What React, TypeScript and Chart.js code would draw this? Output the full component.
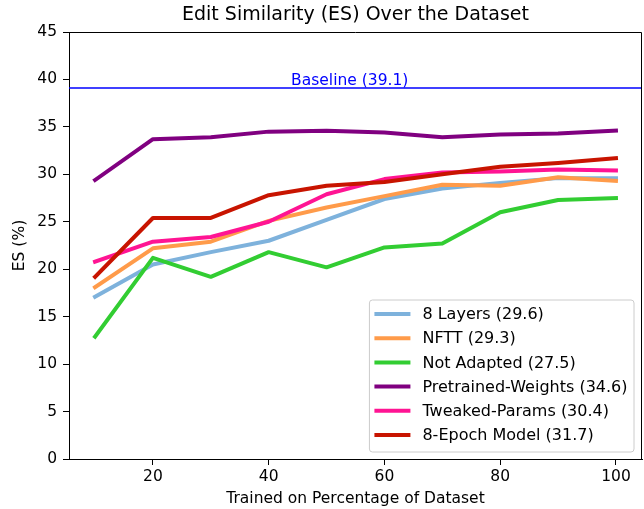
import React, { useEffect, useRef } from "react";
import { Chart, registerables } from "chart.js";

Chart.register(...registerables);

const percentages = [10, 20, 30, 40, 50, 60, 70, 80, 90, 100];
const eightLayers = [17.1, 20.5, 21.8, 23.0, 25.2, 27.4, 28.5, 29.1, 29.6, 29.6];
const nftt = [18.1, 22.2, 22.9, 25.1, 26.5, 27.7, 28.9, 28.8, 29.7, 29.3];
const notAdapted = [12.9, 21.2, 19.2, 21.8, 20.2, 22.3, 22.7, 26.0, 27.3, 27.5];
const pretrainedWeights = [29.4, 33.7, 33.9, 34.5, 34.6, 34.4, 33.9, 34.2, 34.3, 34.6];
const tweakedParams = [20.8, 22.9, 23.4, 25.0, 27.9, 29.5, 30.2, 30.3, 30.5, 30.4];
const eightEpoch = [19.2, 25.4, 25.4, 27.8, 28.8, 29.2, 30.0, 30.8, 31.2, 31.7];

const seriesLabels = [
  "8 Layers (29.6)",
  "NFTT (29.3)",
  "Not Adapted (27.5)",
  "Pretrained-Weights (34.6)",
  "Tweaked-Params (30.4)",
  "8-Epoch Model (31.7)",
];
const seriesColors = ["#7EB2DC", "#FF9B4A", "#32CD32", "#800080", "#FF1493", "#C81400"];
const baselineValue = 39.1;
const baselineLabel = "Baseline (39.1)";
const xTickValues = [20, 40, 60, 80, 100];
const chartTitle = "Edit Similarity (ES) Over the Dataset";
const xAxisTitle = "Trained on Percentage of Dataset";
const yAxisTitle = "ES (%)";

const FONT = "'DejaVu Sans', sans-serif";

export default function App() {
  const ref = useRef<HTMLCanvasElement | null>(null);

  useEffect(() => {
    const canvas = ref.current;
    if (!canvas) return;
    const allSeries = [eightLayers, nftt, notAdapted, pretrainedWeights, tweakedParams, eightEpoch];

    const overlay = {
      id: "overlay",
      afterDatasetsDraw(chart: any) {
        const { ctx, chartArea: ca, scales } = chart;
        const yb = scales.y.getPixelForValue(baselineValue);
        ctx.save();
        ctx.strokeStyle = "#0000FF";
        ctx.lineWidth = 1.5;
        ctx.beginPath();
        ctx.moveTo(ca.left, yb);
        ctx.lineTo(ca.right, yb);
        ctx.stroke();
        ctx.fillStyle = "#0000FF";
        ctx.font = `15.5px ${FONT}`;
        ctx.textAlign = "center";
        ctx.textBaseline = "alphabetic";
        ctx.fillText(baselineLabel, scales.x.getPixelForValue(54), yb - 3);
        ctx.restore();
      },
      afterDraw(chart: any) {
        const { ctx, chartArea: ca } = chart;
        ctx.save();
        // frame
        ctx.strokeStyle = "#000";
        ctx.lineWidth = 1;
        ctx.beginPath();
        ctx.moveTo(Math.round(ca.left) + 0.5, Math.round(ca.top) + 0.5);
        ctx.lineTo(Math.round(ca.right) - 0.5, Math.round(ca.top) + 0.5);
        ctx.lineTo(Math.round(ca.right) - 0.5, Math.round(ca.bottom));
        ctx.stroke();

        const cx = (ca.left + ca.right) / 2;
        // title
        ctx.fillStyle = "#000";
        ctx.textAlign = "center";
        ctx.textBaseline = "middle";
        ctx.font = `19px ${FONT}`;
        ctx.fillText(chartTitle, cx, 15);
        // x axis title
        ctx.font = `15.5px ${FONT}`;
        ctx.fillText(xAxisTitle, cx, 499);
        // y axis title
        ctx.save();
        ctx.translate(20, (ca.top + ca.bottom) / 2);
        ctx.rotate(-Math.PI / 2);
        ctx.fillText(yAxisTitle, 0, 0);
        ctx.restore();

        // legend
        ctx.font = `16px ${FONT}`;
        let maxW = 0;
        seriesLabels.forEach((l) => {
          maxW = Math.max(maxW, ctx.measureText(l).width);
        });
        const handleStart = 5;
        const handleLen = 36;
        const gap = 12;
        const rightPad = 6.5;
        const rowH = 24.2;
        const textOffset = handleStart + handleLen + gap;
        const boxW = textOffset + maxW + rightPad;
        const boxH = 152;
        const boxRight = ca.right - 8;
        const boxBottom = ca.bottom - 7;
        const bx = boxRight - boxW;
        const by = boxBottom - boxH;
        ctx.beginPath();
        const r = 3;
        ctx.moveTo(bx + r, by);
        ctx.lineTo(bx + boxW - r, by);
        ctx.quadraticCurveTo(bx + boxW, by, bx + boxW, by + r);
        ctx.lineTo(bx + boxW, by + boxH - r);
        ctx.quadraticCurveTo(bx + boxW, by + boxH, bx + boxW - r, by + boxH);
        ctx.lineTo(bx + r, by + boxH);
        ctx.quadraticCurveTo(bx, by + boxH, bx, by + boxH - r);
        ctx.lineTo(bx, by + r);
        ctx.quadraticCurveTo(bx, by, bx + r, by);
        ctx.closePath();
        ctx.fillStyle = "rgba(255,255,255,0.8)";
        ctx.fill();
        ctx.strokeStyle = "#CCCCCC";
        ctx.lineWidth = 1;
        ctx.stroke();

        seriesLabels.forEach((l, i) => {
          const yy = by + 14 + i * rowH;
          ctx.strokeStyle = seriesColors[i];
          ctx.lineWidth = 4;
          ctx.lineCap = "butt";
          ctx.beginPath();
          ctx.moveTo(bx + handleStart, yy);
          ctx.lineTo(bx + handleStart + handleLen, yy);
          ctx.stroke();
          ctx.fillStyle = "#000";
          ctx.textAlign = "left";
          ctx.textBaseline = "middle";
          ctx.fillText(l, bx + textOffset, yy + 1);
        });
        ctx.restore();
      },
    };

    const chart = new Chart(canvas, {
      type: "line",
      data: {
        datasets: allSeries.map((s, i) => ({
          label: seriesLabels[i],
          data: percentages.map((x, j) => ({ x, y: s[j] })),
          borderColor: seriesColors[i],
          backgroundColor: seriesColors[i],
          borderWidth: 4,
          pointRadius: 0,
          fill: false,
          tension: 0,
          order: allSeries.length - i,
          borderJoinStyle: "round",
          borderCapStyle: "square",
        })),
      },
      options: {
        responsive: false,
        animation: false,
        devicePixelRatio: 1,
        layout: { padding: { top: 32, right: 2, left: 0, bottom: 0 } },
        plugins: {
          legend: { display: false },
          title: { display: false },
          tooltip: { enabled: false },
        },
        scales: {
          x: {
            type: "linear",
            min: 5.5,
            max: 104.5,
            afterBuildTicks: (s: any) => {
              s.ticks = xTickValues.map((v) => ({ value: v }));
            },
            afterFit: (s: any) => {
              s.height = 50;
            },
            grid: { drawOnChartArea: false, tickLength: 6, color: "#000", tickWidth: 1 },
            border: { color: "#000", width: 1 },
            ticks: {
              color: "#000",
              font: { family: FONT, size: 15.5 },
              padding: 3,
              maxRotation: 0,
              autoSkip: false,
            },
          },
          y: {
            type: "linear",
            min: 0,
            max: 45,
            afterFit: (s: any) => {
              s.width = 69;
            },
            grid: { drawOnChartArea: false, tickLength: 6, color: "#000", tickWidth: 1 },
            border: { color: "#000", width: 1 },
            ticks: {
              stepSize: 5,
              color: "#000",
              font: { family: FONT, size: 15.5 },
              padding: 6,
            },
          },
        },
      },
      plugins: [overlay],
    } as any);

    return () => chart.destroy();
  }, []);

  return (
    <div style={{ position: "absolute", left: 0, top: 0, width: 644, height: 509, background: "#fff" }}>
      <canvas ref={ref} width={644} height={509} style={{ display: "block" }} />
    </div>
  );
}
